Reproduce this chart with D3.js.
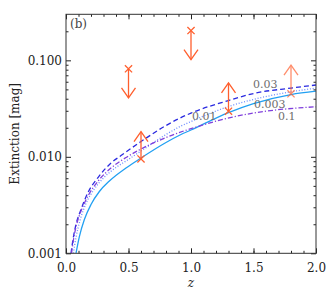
<!DOCTYPE html>
<html>
<head>
<meta charset="utf-8">
<script src="https://cdn.jsdelivr.net/npm/d3@7"></script>
<style>
html,body{margin:0;padding:0;background:#fff;}
svg{display:block;}
</style>
</head>
<body>
<svg id="chart" width="332" height="299"></svg>
<script>
// ---- data ----
const solidZ   = [0.08, 0.107, 0.147, 0.2, 0.267, 0.347, 0.48, 0.6, 0.8, 0.912, 1.0, 1.3, 1.5, 1.8, 2.0];
const solidV   = [0.001, 0.00149, 0.00224, 0.003204, 0.004369, 0.005613, 0.007655, 0.00972, 0.01407, 0.01682, 0.01896, 0.02878, 0.03566, 0.04422, 0.04785];
const dottedZ  = [0.059, 0.08, 0.112, 0.16, 0.224, 0.30, 0.40, 0.48, 0.6, 0.8, 0.912, 1.0, 1.3, 1.5, 1.8, 2.0];
const dottedV  = [0.001, 0.001458, 0.002188, 0.00328, 0.00458, 0.00603, 0.00775, 0.00905, 0.01148, 0.01702, 0.0206, 0.0232, 0.0332, 0.0393, 0.0472, 0.0515];
const dashedZ  = [0.04, 0.056, 0.08, 0.12, 0.176, 0.256, 0.365, 0.44, 0.6, 0.8, 0.912, 1.0, 1.3, 1.5, 1.8, 2.0];
const dashedV  = [0.001, 0.00139, 0.00199, 0.00284, 0.00427, 0.0061, 0.00873, 0.0103, 0.0144, 0.0211, 0.0252, 0.0284, 0.0383, 0.0453, 0.0516, 0.0555];
const dashdotZ = [0.044, 0.06, 0.085, 0.12, 0.18, 0.26, 0.365, 0.48, 0.6, 0.8, 1.067, 1.333, 1.6, 2.0];
const dashdotV = [0.001, 0.00139, 0.00199, 0.002737, 0.00401, 0.00568, 0.00775, 0.00983, 0.01205, 0.01585, 0.02085, 0.02585, 0.0297, 0.033];

// limits: marker value (X) and arrow tip value
const upperZ    = [0.5, 1.0];
const upperFrom = [0.0817, 0.2036];
const upperTo   = [0.0409, 0.1018];
const lowerZ    = [0.6, 1.3, 1.8];
const lowerFrom = [0.0095, 0.0297, 0.0450];
const lowerTo   = [0.0182, 0.0585, 0.0890];

// curve labels
const curveLabels  = ["0.03", "0.003", "0.01", "0.1"];
const curveLabelZ  = [1.496, 1.504, 1.008, 1.696];
const curveLabelV  = [0.0512, 0.0324, 0.0241, 0.0241];

const xMajor = [0, 0.5, 1.0, 1.5, 2.0];
const xTickLabels = ["0.0", "0.5", "1.0", "1.5", "2.0"];
const xMinor = d3.range(0, 21).map(i => i / 10);
const yMajor = [0.001, 0.01, 0.1];
const yTickLabels = ["0.001", "0.010", "0.100"];
const yMinor = [0.001, 0.01, 0.1].flatMap(d => [2,3,4,5,6,7,8,9].map(k => k * d)).filter(v => v <= 0.3);

// ---- layout ----
const L = 66, R = 316, T = 14.3, B = 253.3;
const svg = d3.select("#chart");
const x = d3.scaleLinear().domain([0, 2]).range([L, R]);
const y = d3.scaleLog().domain([0.001, 0.3]).range([B, T]);
const font = "DejaVu Serif, Liberation Serif, serif";

svg.append("defs").append("clipPath").attr("id", "clip")
  .append("rect").attr("x", L).attr("y", T).attr("width", R - L).attr("height", B - T);

// curves
const series = [
  {z: solidZ, v: solidV, color: "#22a0f2", dash: null, w: 1.3},
  {z: dottedZ, v: dottedV, color: "#6d8cff", dash: "1,1.8", w: 1.3},
  {z: dashedZ, v: dashedV, color: "#2a2ae0", dash: "5,3", w: 1.3},
  {z: dashdotZ, v: dashdotV, color: "#8040dc", dash: "5,2,1.2,2", w: 1.3}
];
const line = d3.line().x(d => x(d[0])).y(d => y(d[1])).curve(d3.curveMonotoneX);
const cg = svg.append("g").attr("clip-path", "url(#clip)");
series.forEach(s => {
  cg.append("path")
    .attr("d", line(s.z.map((z, i) => [z, s.v[i]])))
    .attr("fill", "none")
    .attr("stroke", s.color)
    .attr("stroke-width", s.w)
    .attr("stroke-dasharray", s.dash);
});

// curve labels
svg.append("g").selectAll("text").data(curveLabels).join("text")
  .attr("x", (d, i) => x(curveLabelZ[i]))
  .attr("y", (d, i) => y(curveLabelV[i]))
  .attr("font-family", font).attr("font-size", 11)
  .attr("fill", "#6e6e6e")
  .text(d => d);

// arrows
function limit(g, z, from, to, opacity) {
  const cx = x(z), y1 = y(from), y2 = y(to);
  const dir = y2 < y1 ? 1 : -1; // 1 = up arrow
  const col = "#ff5f2e";
  const a = g.append("g").attr("stroke", col).attr("stroke-width", 1.3).attr("fill", "none").attr("opacity", opacity);
  a.append("line").attr("x1", cx).attr("y1", y1).attr("x2", cx).attr("y2", y2);
  a.append("path").attr("d", `M${cx-7},${y2+10*dir}L${cx},${y2}L${cx+7},${y2+10*dir}`);
  const s = 3.6;
  a.append("path").attr("d", `M${cx-s},${y1-s}L${cx+s},${y1+s}M${cx-s},${y1+s}L${cx+s},${y1-s}`);
}
const ag = svg.append("g");
upperZ.forEach((z, i) => limit(ag, z, upperFrom[i], upperTo[i], 1));
lowerZ.forEach((z, i) => limit(ag, z, lowerFrom[i], lowerTo[i], i === 2 ? 0.7 : 1));

// axes (inward ticks)
function styleAxis(g) {
  g.select(".domain").remove();
  g.selectAll("line").attr("stroke", "#222").attr("stroke-width", 1);
  g.selectAll("text").attr("font-family", font).attr("font-size", 12).attr("fill", "#222");
}
svg.append("g").attr("transform", `translate(0,${B})`)
  .call(d3.axisBottom(x).tickValues(xMinor).tickSize(-2.5).tickFormat(""))
  .call(styleAxis);
svg.append("g").attr("transform", `translate(0,${B})`)
  .call(d3.axisBottom(x).tickValues(xMajor).tickSize(-5).tickPadding(10).tickFormat((d, i) => xTickLabels[i]))
  .call(styleAxis);
svg.append("g").attr("transform", `translate(0,${T})`)
  .call(d3.axisTop(x).tickValues(xMinor).tickSize(-2.5).tickFormat(""))
  .call(styleAxis);
svg.append("g").attr("transform", `translate(0,${T})`)
  .call(d3.axisTop(x).tickValues(xMajor).tickSize(-5).tickFormat(""))
  .call(styleAxis);
svg.append("g").attr("transform", `translate(${L},0)`)
  .call(d3.axisLeft(y).tickValues(yMinor).tickSize(-2.5).tickFormat(""))
  .call(styleAxis);
svg.append("g").attr("transform", `translate(${L},0)`)
  .call(d3.axisLeft(y).tickValues(yMajor).tickSize(-5).tickPadding(4).tickFormat((d, i) => yTickLabels[i]))
  .call(styleAxis);
svg.append("g").attr("transform", `translate(${R},0)`)
  .call(d3.axisRight(y).tickValues(yMinor).tickSize(-2.5).tickFormat(""))
  .call(styleAxis);
svg.append("g").attr("transform", `translate(${R},0)`)
  .call(d3.axisRight(y).tickValues(yMajor).tickSize(-5).tickFormat(""))
  .call(styleAxis);

// frame
svg.append("rect").attr("x", L).attr("y", T).attr("width", R - L).attr("height", B - T)
  .attr("fill", "none").attr("stroke", "#333").attr("stroke-width", 1);

// titles
svg.append("text").attr("x", (L + R) / 2).attr("y", 287)
  .attr("text-anchor", "middle").attr("font-family", font).attr("font-style", "italic")
  .attr("font-size", 12).attr("fill", "#222").text("z");
svg.append("text").attr("transform", `translate(18.5,${(T + B) / 2}) rotate(-90)`)
  .attr("text-anchor", "middle").attr("font-family", font)
  .attr("font-size", 12).attr("fill", "#222").text("Extinction [mag]");
svg.append("text").attr("x", 70).attr("y", 27.5)
  .attr("font-family", font).attr("font-size", 12).attr("fill", "#444").text("(b)");
</script>
</body>
</html>
